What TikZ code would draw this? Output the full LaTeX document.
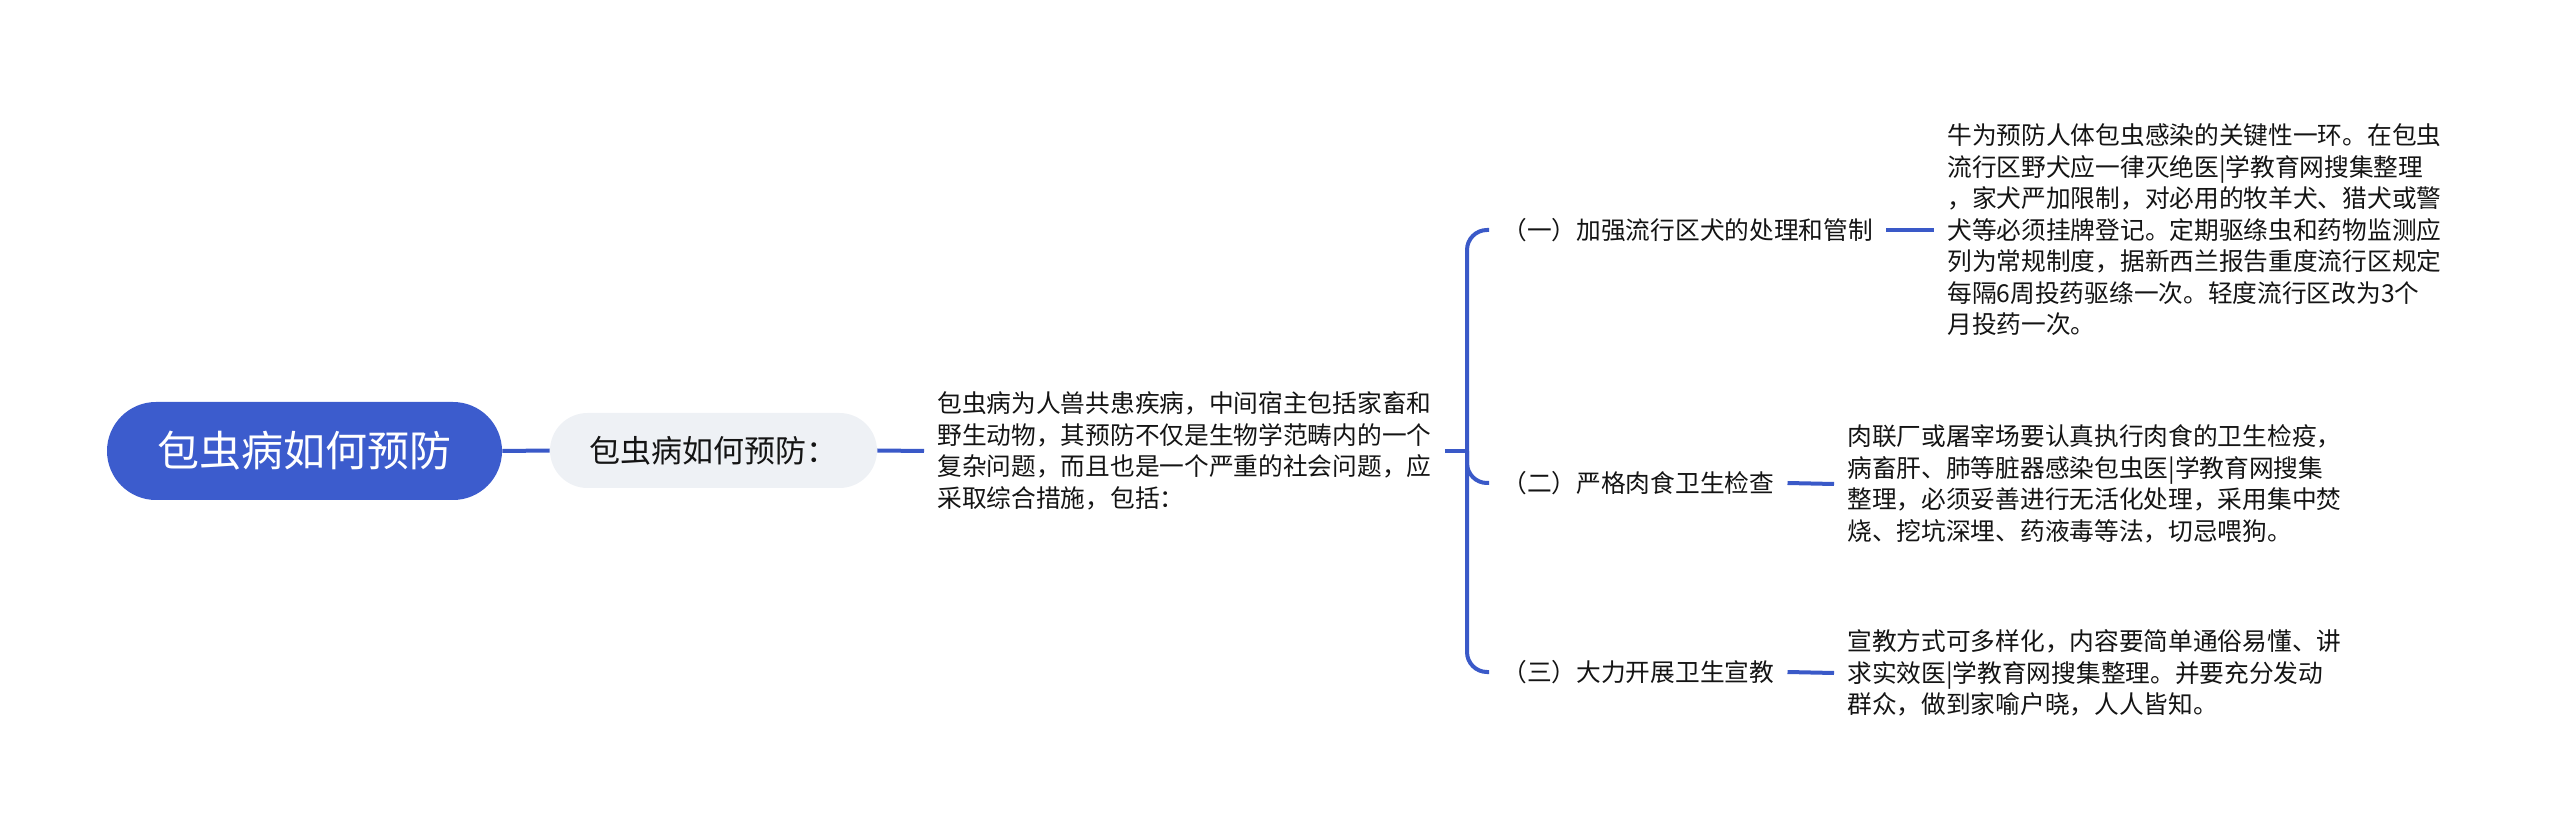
\documentclass[tikz,border=0pt]{standalone}
\usepackage{fontspec}
\newfontfamily\cjk{Noto Sans CJK SC}
\definecolor{mainblue}{RGB}{60,92,205}
\definecolor{linkblue}{RGB}{58,89,200}
\definecolor{subgray}{RGB}{238,241,245}
\definecolor{txt}{RGB}{20,20,20}
\begin{document}
\begin{tikzpicture}[x=0.5pt,y=-0.5pt,
  link/.style={draw=linkblue,line width=2pt},
  rootbox/.style={rectangle,rounded corners=24.5pt,fill=mainblue,minimum width=197.5pt,minimum height=49pt,inner sep=0pt,text=white,font=\cjk\fontsize{21pt}{25pt}\selectfont},
  subbox/.style={rectangle,rounded corners=18.75pt,fill=subgray,minimum width=163.5pt,minimum height=37.5pt,inner sep=0pt,text=txt,font=\cjk\fontsize{15.5pt}{18pt}\selectfont},
  body/.style={font=\cjk\fontsize{12.35pt}{15.75pt}\selectfont,text=txt,align=left,inner xsep=6.5pt,inner ysep=0pt,anchor=west}
]
\useasboundingbox (0,0) rectangle (2560,839);
\node[rootbox] (root) at (304.5,451) {包虫病如何预防};
\node[subbox] (sub) at (713.5,450.5) {包虫病如何预防：};
\node[body] (t3) at (924,451) {包虫病为人兽共患疾病，中间宿主包括家畜和\\野生动物，其预防不仅是生物学范畴内的一个\\复杂问题，而且也是一个严重的社会问题，应\\采取综合措施，包括：};
\coordinate (hub) at (1467,451);
\node[body] (b1) at (1489,230) {（一）加强流行区犬的处理和管制};
\node[body] (b2) at (1489,483) {（二）严格肉食卫生检查};
\node[body] (b3) at (1489,672) {（三）大力开展卫生宣教};
\node[body] (t4) at (1934,230) {牛为预防人体包虫感染的关键性一环。在包虫\\流行区野犬应一律灭绝医|学教育网搜集整理\\，家犬严加限制，对必用的牧羊犬、猎犬或警\\犬等必须挂牌登记。定期驱绦虫和药物监测应\\列为常规制度，据新西兰报告重度流行区规定\\每隔6周投药驱绦一次。轻度流行区改为3个\\月投药一次。};
\node[body] (t5) at (1834,484) {肉联厂或屠宰场要认真执行肉食的卫生检疫，\\病畜肝、肺等脏器感染包虫医|学教育网搜集\\整理，必须妥善进行无活化处理，采用集中焚\\烧、挖坑深埋、药液毒等法，切忌喂狗。};
\node[body] (t6) at (1834,673) {宣教方式可多样化，内容要简单通俗易懂、讲\\求实效医|学教育网搜集整理。并要充分发动\\群众，做到家喻户晓，人人皆知。};
\draw[link] (root.east) -- (sub.west);
\draw[link] (sub.east) -- (t3.west);
\draw[link] (t3.east) -- (hub);
\draw[link,rounded corners=10pt] (b1.west) -| (hub) |- (b3.west);
\draw[link,rounded corners=10pt] (hub) |- (b2.west);
\draw[link] (b1.east) -- (t4.west);
\draw[link] (b2.east) -- (t5.west);
\draw[link] (b3.east) -- (t6.west);
\end{tikzpicture}
\end{document}
